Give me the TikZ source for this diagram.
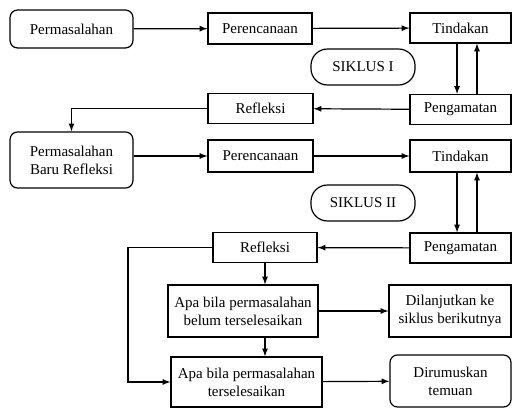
\documentclass[tikz,border=0pt]{standalone}
\usepackage{fontspec}
\setmainfont{Liberation Serif}
\usetikzlibrary{arrows,calc,positioning}
\tikzset{%
	block/.style    = {draw, rectangle, align=center, inner sep=1pt, line width=0.8pt}, % Step
	rblock/.style   = {block, rounded corners=5pt}, % Start / end
	cyc/.style      = {block, rounded corners=11pt}, % Cycle label
	waypoint/.style = {coordinate},
}
\begin{document}
\begin{tikzpicture}[x=0.667pt, y=-0.667pt, >=latex, line width=0.8pt, font=\fontsize{10}{12}\selectfont]
		\useasboundingbox (0,0) rectangle (513,408);
		% siklus I
		\node[rblock, minimum width=82pt, minimum height=25.3pt] (perm) at (71.5,29) {Permasalahan};
		\node[block, minimum width=69.4pt, minimum height=20.7pt] (rencana) at (260,28.5) {Perencanaan};
		\node[block, minimum width=67.4pt, minimum height=20pt] (tindak) at (460.5,28) {Tindakan};
		\node[cyc, minimum width=69.4pt, minimum height=24pt] (siklusA) at (363,67) {SIKLUS I};
		\node[block, minimum width=67.4pt, minimum height=20pt] (amat) at (460.5,109.5) {Pengamatan};
		\node[block, minimum width=70pt, minimum height=20pt] (refleksi) at (260.5,108.5) {Refleksi};
		% siklus II
		\node[rblock, minimum width=82pt, minimum height=37.4pt] (permbaru) at (71.5,160) {Permasalahan\\Baru Refleksi};
		\node[block, minimum width=70pt, minimum height=21.3pt] (rencanaB) at (260.5,156) {Perencanaan};
		\node[block, minimum width=67.4pt, minimum height=21.3pt] (tindakB) at (460.5,156) {Tindakan};
		\node[cyc, minimum width=69.4pt, minimum height=24pt] (siklusB) at (363,203) {SIKLUS II};
		\node[block, minimum width=67.4pt, minimum height=20pt] (amatB) at (460.5,248) {Pengamatan};
		\node[block, minimum width=69.4pt, minimum height=20pt] (refleksiB) at (265,247.5) {Refleksi};
		% hasil
		\node[block, minimum width=100pt, minimum height=34.7pt] (belum) at (243,311) {Apa bila permasalahan\\belum terselesaikan};
		\node[block, minimum width=100.7pt, minimum height=33.4pt] (selesai) at (246.5,382) {Apa bila permasalahan\\terselesaikan};
		\node[block, minimum width=81.4pt, minimum height=34.7pt] (lanjut) at (450,311) {Dilanjutkan ke\\siklus berikutnya};
		\node[rblock, minimum width=80.7pt, minimum height=34.7pt] (temuan) at (450.5,381) {Dirumuskan\\temuan};
		\node[waypoint] (belok) at (128,247.5) {};
		\draw[->] (perm) -- (rencana);
		\draw[->] (rencana) -- (tindak);
		\draw[->] ([xshift=-2.3pt]tindak.south) -- ([xshift=-2.3pt]tindak.south |- amat.north);
		\draw[->] ([xshift=11pt]amat.north) -- ([xshift=11pt]amat.north |- tindak.south);
		\draw[->] (amat) -- (refleksi);
		\draw[->] (refleksi.west) -| (permbaru.north);
		\draw[->] (permbaru.east |- rencanaB.west) -- (rencanaB.west);
		\draw[->] (rencanaB) -- (tindakB);
		\draw[->] ([xshift=-2.3pt]tindakB.south) -- ([xshift=-2.3pt]tindakB.south |- amatB.north);
		\draw[->] ([xshift=11pt]amatB.north) -- ([xshift=11pt]amatB.north |- tindakB.south);
		\draw[->] (amatB) -- (refleksiB);
		\draw[->] (refleksiB.south) -- (refleksiB.south |- belum.north);
		\draw[->] (refleksiB.south |- belum.south) -- (refleksiB.south |- selesai.north);
		\draw[->] (refleksiB.west) -- (belok) |- (selesai.west);
		\draw[->] (belum) -- (lanjut);
		\draw[->] (selesai) -- (temuan);
		\end{tikzpicture}
\end{document}
